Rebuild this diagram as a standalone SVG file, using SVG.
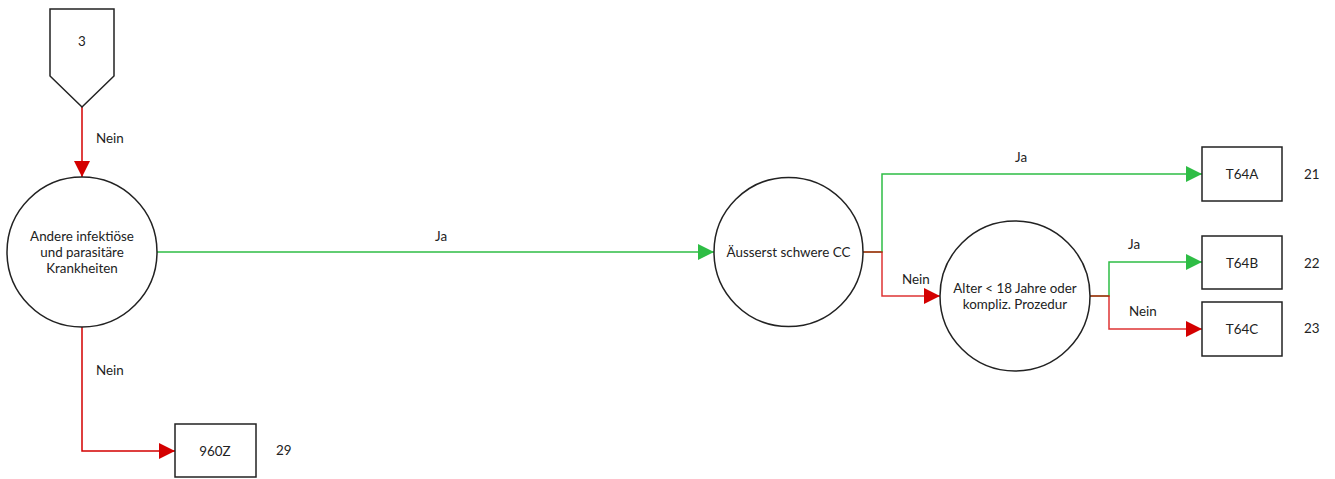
<svg xmlns="http://www.w3.org/2000/svg" width="1335" height="479" viewBox="0 0 1335 479">
<defs>
<style>
.n{fill:#fff;stroke:#222;stroke-width:1.5}
.t{font-family:Lato,"Liberation Sans",sans-serif;font-size:13.4px;fill:#222;text-anchor:middle;dominant-baseline:central}
.l{font-family:Lato,"Liberation Sans",sans-serif;font-size:13.4px;fill:#222;dominant-baseline:central}
.g{fill:none;stroke:#2ebd45;stroke-width:1.5}
.r{fill:none;stroke:#d40000;stroke-width:1.5}
</style>
<marker id="ag" markerWidth="16" markerHeight="16" viewBox="0 0 16 16" refX="16" refY="8" orient="auto" markerUnits="userSpaceOnUse"><path d="M0,0L16,8L0,16Z" fill="#2ebd45"/></marker>
<marker id="ar" markerWidth="16" markerHeight="16" viewBox="0 0 16 16" refX="16" refY="8" orient="auto" markerUnits="userSpaceOnUse"><path d="M0,0L16,8L0,16Z" fill="#d40000"/></marker>
</defs>
<rect width="1335" height="479" fill="#fff"/>
<g id="connectors">
<path class="r" d="M82,107V177" marker-end="url(#ar)"/>
<text class="l" x="96" y="138">Nein</text>
<path class="g" d="M156,252H714" marker-end="url(#ag)"/>
<text class="l" x="435" y="236">Ja</text>
<path class="r" d="M82,326V451H175" marker-end="url(#ar)"/>
<text class="l" x="96" y="370">Nein</text>
<path class="g" d="M863,252H882V174H1202" marker-end="url(#ag)"/>
<path class="r" d="M863,252H882V296H940" marker-end="url(#ar)" stroke-opacity="0.8"/>
<text class="l" x="1015" y="157">Ja</text>
<text class="l" x="902" y="279">Nein</text>
<path class="g" d="M1090,296H1109V262H1202" marker-end="url(#ag)"/>
<path class="r" d="M1090,296H1109V329H1202" marker-end="url(#ar)" stroke-opacity="0.8"/>
<text class="l" x="1128" y="244">Ja</text>
<text class="l" x="1129" y="311">Nein</text>
</g>
<g id="start">
<path class="n" d="M50,9H114V76L82,107L50,76Z"/>
<text class="t" x="82" y="41">3</text>
</g>
<g id="q1">
<circle class="n" cx="82" cy="252" r="75"/>
<text class="t" x="82" y="236">Andere infektiöse</text>
<text class="t" x="82" y="252">und parasitäre</text>
<text class="t" x="82" y="268">Krankheiten</text>
</g>
<g id="q2">
<circle class="n" cx="788.5" cy="252" r="74.5"/>
<text class="t" x="788.5" y="252">Äusserst schwere CC</text>
</g>
<g id="q3">
<circle class="n" cx="1015" cy="296" r="75"/>
<text class="t" x="1015" y="288">Alter &lt; 18 Jahre oder</text>
<text class="t" x="1015" y="304">kompliz. Prozedur</text>
</g>
<g id="t64a">
<rect class="n" x="1202" y="147" width="80" height="54"/>
<text class="t" x="1242" y="174">T64A</text>
<text class="l" x="1304" y="174">21</text>
</g>
<g id="t64b">
<rect class="n" x="1202" y="236" width="80" height="53"/>
<text class="t" x="1242" y="263">T64B</text>
<text class="l" x="1304" y="263">22</text>
</g>
<g id="t64c">
<rect class="n" x="1202" y="302" width="80" height="54"/>
<text class="t" x="1242" y="329">T64C</text>
<text class="l" x="1304" y="328">23</text>
</g>
<g id="z960">
<rect class="n" x="175" y="424" width="81" height="53"/>
<text class="t" x="215" y="451">960Z</text>
<text class="l" x="276" y="450">29</text>
</g>
</svg>
